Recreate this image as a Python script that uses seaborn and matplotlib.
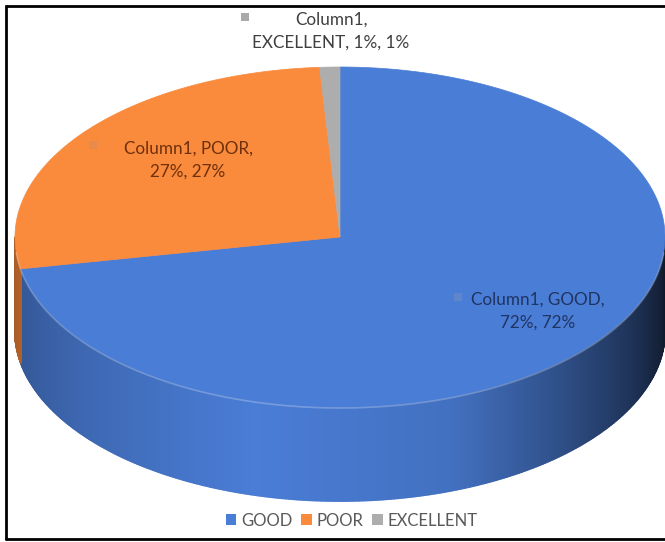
import numpy as np
import matplotlib.pyplot as plt
import seaborn as sns
from matplotlib.patches import Polygon, Patch, Rectangle
from matplotlib.collections import PolyCollection

# data
series_name = "Column1"
categories = ["GOOD", "POOR", "EXCELLENT"]
percents = [72, 27, 1]
top_colors = ["#4A7DD6", "#FA8A3C", "#ADADAD"]
text_colors = ["#1F3461", "#6E300C", "#3F3F3F"]
# where each data label is broken into two lines (after this many comma parts)
label_breaks = [2, 2, 1]

sns.set_theme(style="white")
plt.rcParams['font.family'] = ['Lato', 'DejaVu Sans']

W, H = 665, 542
fig = plt.figure(figsize=(W / 100, H / 100), dpi=100)
ax = fig.add_axes([0, 0, 1, 1])
ax.set_xlim(0, W)
ax.set_ylim(H, 0)
ax.axis('off')

# pie geometry (pixels)
cx, cy = 340, 237
a, b = 325, 170
depth = 94


def pt(t):
    r = np.radians(t)
    return cx + a * np.cos(r), cy - b * np.sin(r)


def shade(hex_color, f):
    rgb = np.array(plt.matplotlib.colors.to_rgb(hex_color))
    return tuple(np.clip(rgb * f, 0, 1))


# lighting on side wall by parametric angle
shade_t = [180, 200, 255, 290, 320, 345, 360]
shade_f = [0.66, 0.74, 1.0, 0.90, 0.55, 0.30, 0.20]

fracs = np.array(percents) / np.sum(percents)
starts = 90 - 360 * np.concatenate([[0], np.cumsum(fracs)[:-1]])
ends = starts - 360 * fracs

# side wall
for i, (s, e) in enumerate(zip(starts, ends)):
    lo, hi = e % 360, s % 360
    if hi <= lo:
        hi += 360
    ts = np.linspace(lo, hi, 500)
    quads, cols = [], []
    for t1, t2 in zip(ts[:-1], ts[1:]):
        tmod = ((t1 + t2) / 2) % 360
        if tmod < 180:
            continue
        f = np.interp(tmod, shade_t, shade_f)
        x1, y1 = pt(t1)
        x2, y2 = pt(t2)
        quads.append([(x1, y1), (x2, y2), (x2, y2 + depth), (x1, y1 + depth)])
        cols.append(shade(top_colors[i], f))
    if quads:
        ax.add_collection(PolyCollection(quads, facecolors=cols, edgecolors=cols,
                                         linewidths=1.3))

# top face
for i, (s, e) in enumerate(zip(starts, ends)):
    ts = np.linspace(s, e, 300)
    pts = [(cx, cy)] + [pt(t) for t in ts]
    ax.add_patch(Polygon(pts, closed=True, facecolor=top_colors[i],
                         edgecolor=top_colors[i], linewidth=0.5))

# faint highlight on front rim
ts = np.linspace(185, 355, 200)
rim = np.array([pt(t) for t in ts])
ax.plot(rim[:, 0], rim[:, 1] + 1, color="white", alpha=0.25, linewidth=1.2)

# data labels
label_pos = [(538, 311), (188, 160), (331, 31)]
key_pos = [(458, 297), (93, 145), (245, 17)]
key_colors = ["#5F86C9", "#E98A4A", "#A9A9A9"]
for i, cat in enumerate(categories):
    parts = [series_name, cat, f"{percents[i]}%", f"{percents[i]}%"]
    k = label_breaks[i]
    txt = ", ".join(parts[:k]) + ",\n" + ", ".join(parts[k:])
    ax.text(label_pos[i][0], label_pos[i][1], txt, ha="center", va="center",
            fontsize=12.3, color=text_colors[i], linespacing=1.5)
    ax.add_patch(Rectangle((key_pos[i][0] - 4, key_pos[i][1] - 4), 8, 8,
                           facecolor=key_colors[i], edgecolor="none"))

# legend
handles = [Patch(facecolor=c, edgecolor="none") for c in top_colors]
fig.legend(handles, categories, loc="lower center", ncol=3, frameon=False,
           bbox_to_anchor=(0.529, -0.003), fontsize=12, labelcolor="#595959",
           handlelength=0.65, handleheight=0.65, handletextpad=0.3, columnspacing=0.5)

# border
ax.plot([6, 6, W + 5], [539, 6, 6], color="black", linewidth=2, solid_joinstyle="miter")
ax.plot([6, W + 5], [539, 539], color="black", linewidth=2)

fig.savefig("out.png", dpi=100)
